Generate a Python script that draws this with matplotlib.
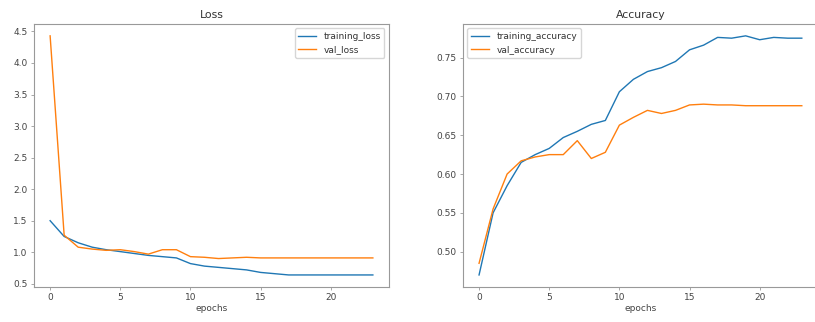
import matplotlib
matplotlib.use("Agg")
import matplotlib.pyplot as plt

epochs = list(range(24))

training_loss = [1.50, 1.25, 1.15, 1.08, 1.04, 1.01, 0.98, 0.95, 0.93, 0.91,
                 0.82, 0.78, 0.76, 0.74, 0.72, 0.68, 0.66, 0.64, 0.64, 0.64,
                 0.64, 0.64, 0.64, 0.64]
val_loss = [4.43, 1.27, 1.08, 1.05, 1.03, 1.04, 1.01, 0.97, 1.04, 1.04,
            0.93, 0.92, 0.90, 0.91, 0.92, 0.91, 0.91, 0.91, 0.91, 0.91,
            0.91, 0.91, 0.91, 0.91]

training_accuracy = [0.470, 0.550, 0.585, 0.615, 0.625, 0.633, 0.647, 0.655,
                     0.664, 0.669, 0.706, 0.722, 0.732, 0.737, 0.745, 0.760,
                     0.766, 0.776, 0.775, 0.778, 0.773, 0.776, 0.775, 0.775]
val_accuracy = [0.485, 0.555, 0.600, 0.617, 0.622, 0.625, 0.625, 0.643,
                0.620, 0.628, 0.663, 0.673, 0.682, 0.678, 0.682, 0.689,
                0.690, 0.689, 0.689, 0.688, 0.688, 0.688, 0.688, 0.688]

plt.rcParams['font.size'] = 6.5
plt.rcParams['lines.linewidth'] = 1.0
plt.rcParams['axes.linewidth'] = 0.8
plt.rcParams['axes.edgecolor'] = '#999999'
plt.rcParams['text.color'] = '#333333'
plt.rcParams['xtick.color'] = '#999999'
plt.rcParams['ytick.color'] = '#999999'
plt.rcParams['xtick.labelcolor'] = '#444444'
plt.rcParams['ytick.labelcolor'] = '#444444'
plt.rcParams['axes.labelcolor'] = '#444444'

fig = plt.figure(figsize=(8.15, 3.22), dpi=100)

ax1 = fig.add_axes([0.0417, 0.109, 0.4356, 0.8168])
ax1.plot(epochs, training_loss, label='training_loss')
ax1.plot(epochs, val_loss, label='val_loss')
ax1.set_title('Loss', fontsize=7.8, pad=4)
ax1.set_xlabel('epochs', labelpad=1)
ax1.legend(loc='upper right', fontsize=6.5)

ax2 = fig.add_axes([0.568, 0.109, 0.4356, 0.8168])
ax2.plot(epochs, training_accuracy, label='training_accuracy')
ax2.plot(epochs, val_accuracy, label='val_accuracy')
ax2.set_title('Accuracy', fontsize=7.8, pad=4)
ax2.set_xlabel('epochs', labelpad=1)
ax2.legend(loc='upper left', fontsize=6.5)

for ax in (ax1, ax2):
    ax.tick_params(length=2.5, width=0.6, pad=2)

fig.savefig('out.png', dpi=100)
